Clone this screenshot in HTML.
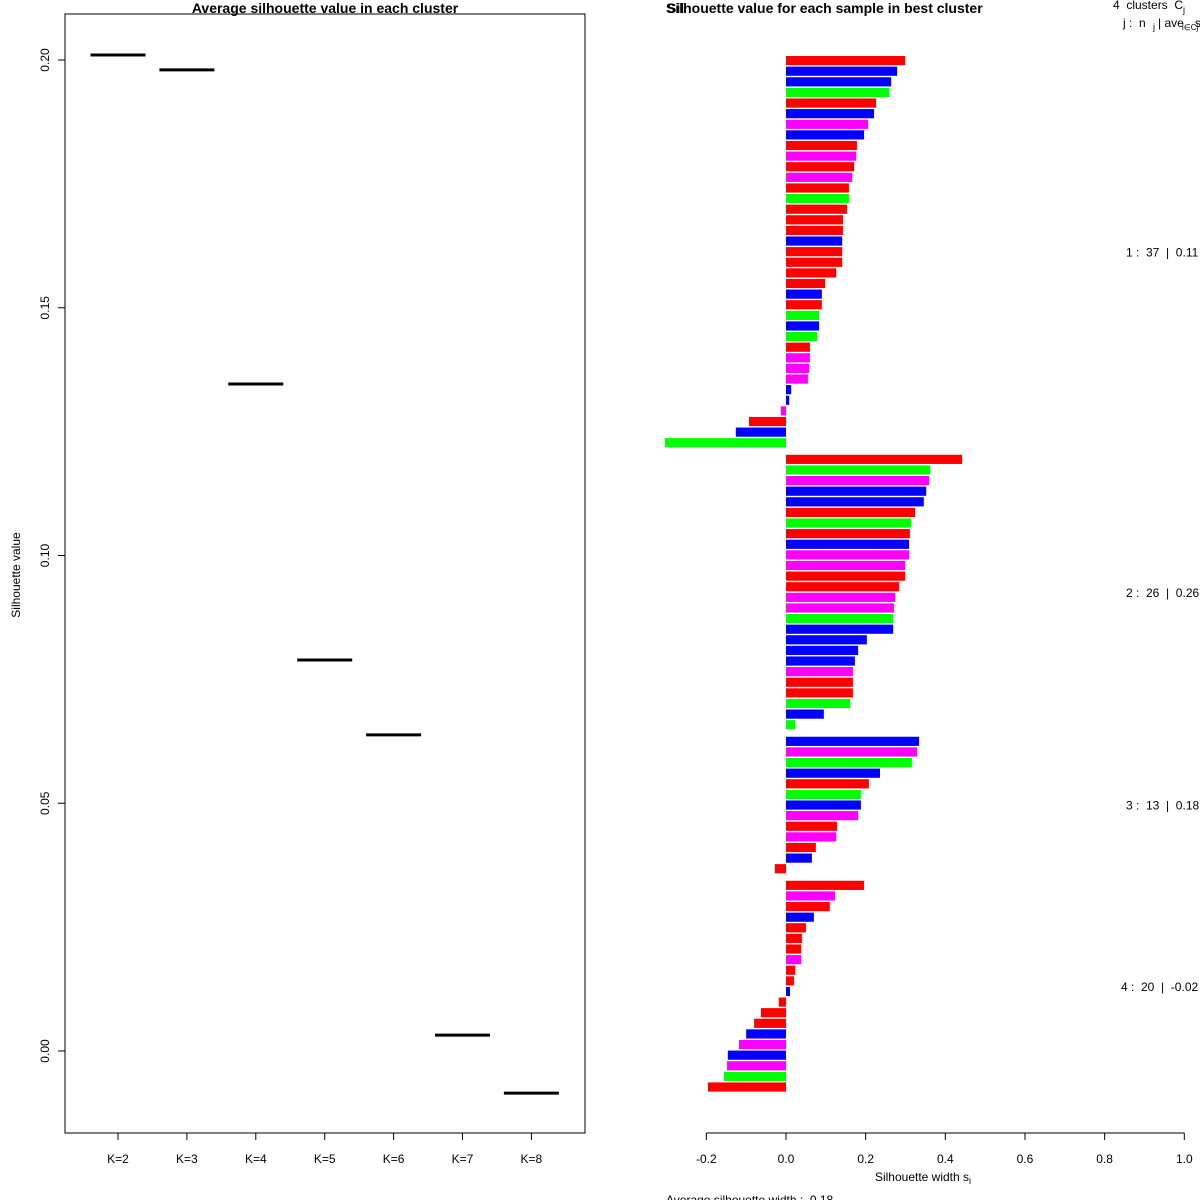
<!DOCTYPE html>
<html><head><meta charset="utf-8"><style>
html,body{margin:0;padding:0;background:#fff}
svg{display:block;font-family:"Liberation Sans",sans-serif}
text{white-space:pre}
</style></head><body>
<svg id="chart" width="1200" height="1200" viewBox="0 0 1200 1200">
<g id="left"></g>
<g id="right"></g>
</svg>
<script>
// Left chart data
const kLabels = ["K=2","K=3","K=4","K=5","K=6","K=7","K=8"];
const avgSil = [0.201, 0.198, 0.1346, 0.0789, 0.0638, 0.0032, -0.0085];
const leftTicks = [0.00, 0.05, 0.10, 0.15, 0.20];
const leftTickLabels = ["0.00","0.05","0.10","0.15","0.20"];
// Right chart data
const clusterSizes = [37, 26, 13, 20];
const clusterLabels = ["1 :  37  |  0.11","2 :  26  |  0.26","3 :  13  |  0.18","4 :  20  |  -0.02"];
const silValues = [
0.299,0.279,0.264,0.259,0.226,0.221,0.206,0.196,0.178,0.176,0.171,0.166,0.158,0.158,0.153,0.143,0.143,0.141,0.141,0.141,0.126,0.098,0.090,0.090,0.083,0.083,0.078,0.060,0.060,0.058,0.055,0.013,0.008,-0.013,-0.093,-0.126,-0.304,
0.442,0.362,0.359,0.352,0.346,0.324,0.314,0.311,0.309,0.309,0.299,0.299,0.284,0.274,0.271,0.269,0.269,0.203,0.181,0.173,0.168,0.168,0.168,0.161,0.095,0.023,
0.334,0.329,0.316,0.236,0.208,0.188,0.188,0.181,0.128,0.126,0.075,0.065,-0.028,
0.196,0.123,0.110,0.070,0.050,0.040,0.038,0.038,0.023,0.020,0.010,-0.018,-0.063,-0.080,-0.100,-0.118,-0.146,-0.148,-0.156,-0.196];
const silColors = [
"r","b","b","g","r","b","m","b","r","m","r","m","r","g","r","r","r","b","r","r","r","r","b","r","g","b","g","r","m","m","m","b","b","m","r","b","g",
"r","g","m","b","b","r","g","r","b","m","m","r","r","m","m","g","b","b","b","b","m","r","r","g","b","g",
"b","m","g","b","r","g","b","m","r","m","r","b","r",
"r","m","r","b","r","r","r","m","r","r","b","r","r","r","b","m","b","m","g","r"];
const xTicks = [-0.2,0.0,0.2,0.4,0.6,0.8,1.0];
const xTickLabels = ["-0.2","0.0","0.2","0.4","0.6","0.8","1.0"];

const NS="http://www.w3.org/2000/svg";
function mk(parent, tag, attrs, text){
  const e=document.createElementNS(NS,tag);
  for(const k in attrs) e.setAttribute(k,attrs[k]);
  if(text!==undefined) e.textContent=text;
  parent.appendChild(e); return e;
}
const L=document.getElementById('left'), R=document.getElementById('right');
const ly = v => 1051 - v*4955;
const lx = i => 118 + i*68.9;
let e;
e=mk(L,'rect',{x:65,y:14,width:520,height:1119,fill:'none',stroke:'#000','stroke-width':1});
 
e=mk(L,'text',{x:325,y:13,'text-anchor':'middle','font-size':14,'font-weight':'bold'},'Average silhouette value in each cluster');
 
e=mk(L,'text',{x:20,y:575,'text-anchor':'middle','font-size':12,transform:'rotate(-90 20 575)'},'Silhouette value');
 
leftTicks.forEach((t,i)=>{
  const y=ly(t);
  e=mk(L,'line',{x1:58,x2:65,y1:y,y2:y,stroke:'#000'});
   
  e=mk(L,'text',{x:49,y:y,'text-anchor':'middle','font-size':12,transform:`rotate(-90 49 ${y})`},leftTickLabels[i]);
   
});
kLabels.forEach((k,i)=>{
  const x=lx(i);
  e=mk(L,'line',{x1:x,x2:x,y1:1133,y2:1140,stroke:'#000'});
   
  e=mk(L,'text',{x:x,y:1163,'text-anchor':'middle','font-size':12},k);
   
  e=mk(L,'line',{x1:x-27.5,x2:x+27.5,y1:ly(avgSil[i]),y2:ly(avgSil[i]),stroke:'#000','stroke-width':3});
   
});
const rx = v => 786 + v*398.3;
const colMap={r:'#ff0000',b:'#0000ff',g:'#00ff00',m:'#ff00ff'};
e=mk(R,'text',{x:667,y:13,'font-size':14,'font-weight':'bold'},'Sil');
 
e=mk(R,'text',{x:666,y:13,'font-size':14,'font-weight':'bold'},'Silhouette value for each sample in best cluster');
 
e=mk(R,'text',{x:1113,y:9,'font-size':12},'4  clusters  C');
 
mk(R,'text',{x:1183,y:13,'font-size':9},'j');
e=mk(R,'text',{x:1123,y:27,'font-size':12},'j :  n');
 
mk(R,'text',{x:1153,y:30,'font-size':9},'j');
mk(R,'text',{x:1158,y:27,'font-size':12},'| ave');
mk(R,'text',{x:1182,y:30,'font-size':8},'i∈Cj');
mk(R,'text',{x:1195,y:27,'font-size':12},'s');
const pitch=10.615, gap=6, bh=9.2;
let idx=0, y0=56;
clusterSizes.forEach((n,c)=>{
  const start=y0;
  for(let j=0;j<n;j++){
    const v=silValues[idx], y=y0+j*pitch;
    const x1=Math.min(rx(0),rx(v)), w=Math.abs(rx(v)-rx(0));
    e=mk(R,'rect',{x:x1,y:y,width:w,height:bh,fill:colMap[silColors[idx]]});
     
    idx++;
  }
  const mid=start+n*pitch/2;
  e=mk(R,'text',{x:1121+(c==3?0:5),y:mid+4,'font-size':12},clusterLabels[c]);
   
  y0+=n*pitch+gap;
});
e=mk(R,'line',{x1:rx(-0.2),x2:rx(1.0),y1:1133,y2:1133,stroke:'#000'});
 
xTicks.forEach((t,i)=>{
  const x=rx(t);
  e=mk(R,'line',{x1:x,x2:x,y1:1133,y2:1140,stroke:'#000'});
   
  e=mk(R,'text',{x:x,y:1163,'text-anchor':'middle','font-size':12},xTickLabels[i]);
   
});
e=mk(R,'text',{x:922,y:1181,'text-anchor':'middle','font-size':12},'Silhouette width s');
 
mk(R,'text',{x:969,y:1184,'font-size':9},'i');
e=mk(R,'text',{x:666,y:1204,'font-size':12},'Average silhouette width :  0.18');
 
</script>
</body></html>
